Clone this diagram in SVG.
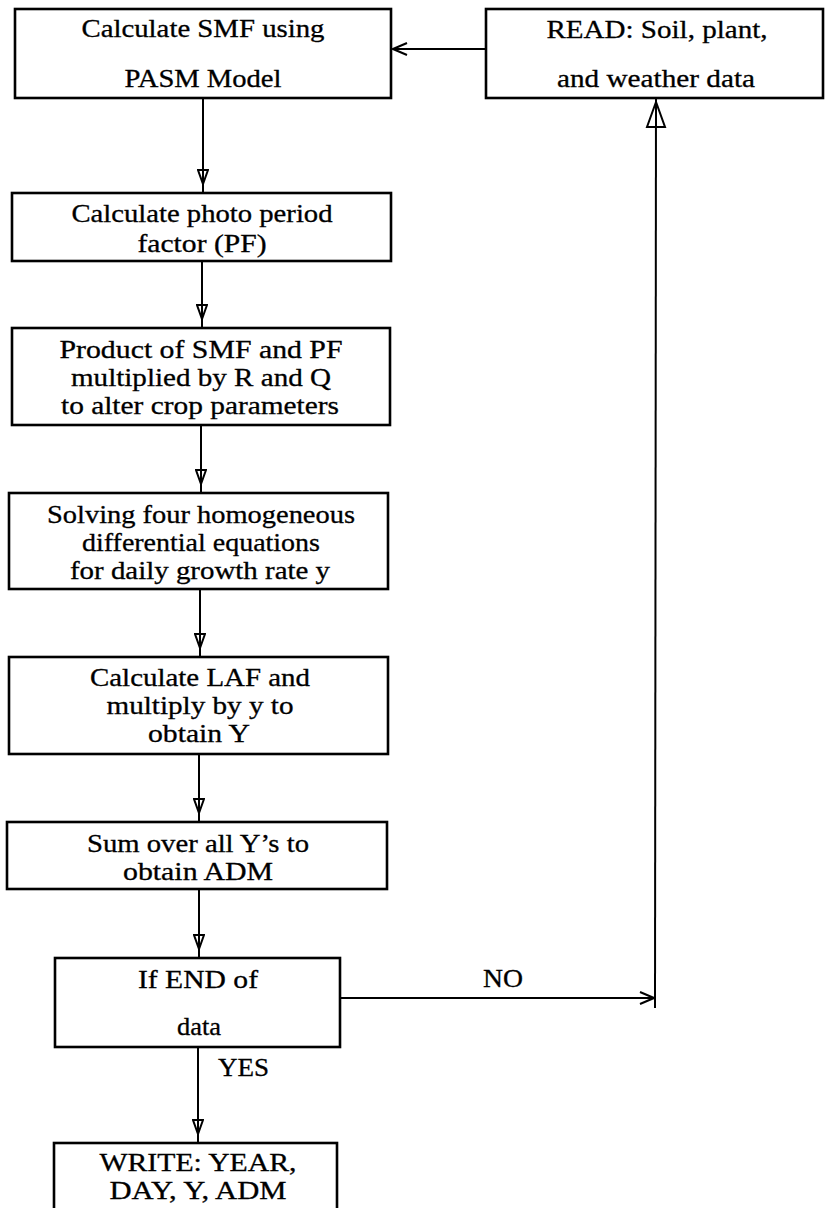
<svg xmlns="http://www.w3.org/2000/svg" width="826" height="1208" viewBox="0 0 826 1208">
<style>
.box{fill:#fff;stroke:#000;stroke-width:2.6}
.t{font-family:"Liberation Serif","Times New Roman",serif;font-size:25px;fill:#000;text-anchor:middle;stroke:#000;stroke-width:0.3}
.lb{font-family:"Liberation Serif","Times New Roman",serif;font-size:25px;fill:#000;stroke:#000;stroke-width:0.3}
.c{fill:none;stroke:#000;stroke-width:2}
.ah{fill:#fff;stroke:#000;stroke-width:2;stroke-linejoin:miter}
</style>
<defs>
<marker id="tri" viewBox="0 0 26 12" refX="24" refY="6" markerWidth="26" markerHeight="12" markerUnits="userSpaceOnUse" orient="auto">
<path d="M1,1 L15,6 L1,11 Z" fill="none" stroke="#000" stroke-width="2"/>
</marker>
<marker id="open" viewBox="0 0 16 14" refX="15" refY="7" markerWidth="16" markerHeight="14" markerUnits="userSpaceOnUse" orient="auto">
<path d="M1,1 L15,7 L1,13" fill="none" stroke="#000" stroke-width="2"/>
</marker>
</defs>

<g id="connectors">
<line class="c" x1="203" y1="98" x2="203" y2="193" marker-end="url(#tri)"/>
<line class="c" x1="202" y1="261" x2="202" y2="328" marker-end="url(#tri)"/>
<line class="c" x1="201" y1="425" x2="201" y2="493" marker-end="url(#tri)"/>
<line class="c" x1="200" y1="589" x2="200" y2="657" marker-end="url(#tri)"/>
<line class="c" x1="199" y1="754" x2="199" y2="822" marker-end="url(#tri)"/>
<line class="c" x1="199" y1="889" x2="199" y2="958" marker-end="url(#tri)"/>
<line class="c" x1="198" y1="1047" x2="198" y2="1143" marker-end="url(#tri)"/>
<line class="c" x1="486" y1="49" x2="393" y2="49" marker-end="url(#open)"/>
<line class="c" x1="340" y1="998" x2="654" y2="998" marker-end="url(#open)"/>
<line class="c" x1="655" y1="1008" x2="656" y2="99"/>
<path class="ah" d="M656,102 L647,127 L665,127 Z"/>
<line class="c" x1="656" y1="102" x2="656" y2="127"/>
<text class="lb" x="218" y="1076" textLength="51" lengthAdjust="spacingAndGlyphs">YES</text>
<text class="lb" x="483" y="987" textLength="40" lengthAdjust="spacingAndGlyphs">NO</text>
</g>

<g id="n1">
<rect class="box" x="15" y="9" width="376" height="89"/>
<text class="t" x="203" y="37" textLength="243" lengthAdjust="spacingAndGlyphs">Calculate SMF using</text>
<text class="t" x="203" y="87" textLength="157" lengthAdjust="spacingAndGlyphs">PASM Model</text>
</g>

<g id="nRead">
<rect class="box" x="486" y="9" width="337" height="89"/>
<text class="t" x="657" y="38" textLength="221" lengthAdjust="spacingAndGlyphs">READ: Soil, plant,</text>
<text class="t" x="656" y="87" textLength="198" lengthAdjust="spacingAndGlyphs">and weather data</text>
</g>

<g id="n2">
<rect class="box" x="12" y="193" width="379" height="68"/>
<text class="t" x="202" y="222" textLength="261" lengthAdjust="spacingAndGlyphs">Calculate photo period</text>
<text class="t" x="202" y="252" textLength="129" lengthAdjust="spacingAndGlyphs">factor (PF)</text>
</g>

<g id="n3">
<rect class="box" x="12" y="328" width="378" height="97"/>
<text class="t" x="201" y="358" textLength="283" lengthAdjust="spacingAndGlyphs">Product of SMF and PF</text>
<text class="t" x="201" y="386" textLength="260" lengthAdjust="spacingAndGlyphs">multiplied by R and Q</text>
<text class="t" x="200" y="414" textLength="278" lengthAdjust="spacingAndGlyphs">to alter crop parameters</text>
</g>

<g id="n4">
<rect class="box" x="9" y="493" width="379" height="96"/>
<text class="t" x="201" y="523" textLength="308" lengthAdjust="spacingAndGlyphs">Solving four homogeneous</text>
<text class="t" x="201" y="551" textLength="238" lengthAdjust="spacingAndGlyphs">differential equations</text>
<text class="t" x="200" y="579" textLength="260" lengthAdjust="spacingAndGlyphs">for daily growth rate y</text>
</g>

<g id="n5">
<rect class="box" x="9" y="657" width="379" height="97"/>
<text class="t" x="200" y="686" textLength="220" lengthAdjust="spacingAndGlyphs">Calculate LAF and</text>
<text class="t" x="200" y="714" textLength="187" lengthAdjust="spacingAndGlyphs">multiply by y to</text>
<text class="t" x="199" y="742" textLength="102" lengthAdjust="spacingAndGlyphs">obtain Y</text>
</g>

<g id="n6">
<rect class="box" x="7" y="822" width="380" height="67"/>
<text class="t" x="198" y="852" textLength="222" lengthAdjust="spacingAndGlyphs">Sum over all Y’s to</text>
<text class="t" x="198" y="880" textLength="150" lengthAdjust="spacingAndGlyphs">obtain ADM</text>
</g>

<g id="n7">
<rect class="box" x="55" y="958" width="285" height="89"/>
<text class="t" x="198" y="988" textLength="120" lengthAdjust="spacingAndGlyphs">If END of</text>
<text class="t" x="199" y="1035" textLength="44" lengthAdjust="spacingAndGlyphs">data</text>
</g>

<g id="n8">
<rect class="box" x="54" y="1143" width="283" height="80"/>
<text class="t" x="198" y="1171" textLength="197" lengthAdjust="spacingAndGlyphs">WRITE: YEAR,</text>
<text class="t" x="198" y="1199" textLength="177" lengthAdjust="spacingAndGlyphs">DAY, Y, ADM</text>
</g>
</svg>
